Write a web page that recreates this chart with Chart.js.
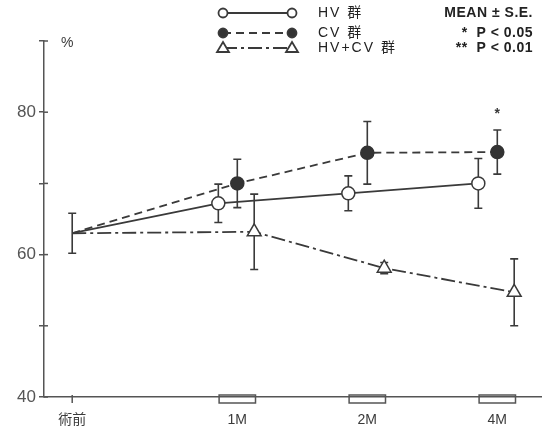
<!DOCTYPE html>
<html>
<head>
<meta charset="utf-8">
<script src="https://cdn.jsdelivr.net/npm/chart.js@4"></script>
<style>
  body { margin: 0; background: #fff; }
</style>
</head>
<body>
<canvas id="myChart" width="551" height="427"></canvas>
<script>
categories = ['術前', '1M', '2M', '4M'];

hvMean = [63.0, 67.2, 68.6, 70.0];
hvSE   = [2.8, 2.7, 2.45, 3.5];

cvMean = [63.0, 70.0, 74.3, 74.4];
cvSE   = [null, 3.4, 4.4, 3.1];
cvSig  = ['', '', '', '*'];

hvcvMean = [63.0, 63.2, 58.1, 54.7];
hvcvSE   = [null, 5.3, 0.8, 4.7];

yLabels = [40, 60, 80];

// where each category sits on the x scale (the figure is not evenly spaced)
xAt = [-0.27, 1, 2, 3];
FONT = "'Liberation Sans', 'Noto Sans CJK JP', sans-serif";
INK = '#3a3a3a';

function pts(values, shift) {
  return values.map((v, i) => ({ x: xAt[i] + (i == 0 ? 0 : shift), y: v }));
}

const errorBars = {
  id: 'errorBars',
  beforeDatasetsDraw(chart) {
    const ctx = chart.ctx;
    const y = chart.scales.y;
    ctx.save();
    ctx.strokeStyle = INK;
    ctx.lineWidth = 1.6;
    chart.data.datasets.forEach((ds, di) => {
      const meta = chart.getDatasetMeta(di);
      ds.se.forEach((e, i) => {
        if (e == null) return;
        const px = meta.data[i].x;
        const top = y.getPixelForValue(ds.data[i].y + e);
        const bot = y.getPixelForValue(ds.data[i].y - e);
        ctx.beginPath();
        ctx.moveTo(px, top); ctx.lineTo(px, bot);
        ctx.moveTo(px - 4, top); ctx.lineTo(px + 4, top);
        ctx.moveTo(px - 4, bot); ctx.lineTo(px + 4, bot);
        ctx.stroke();
      });
      if (ds.sig) {
        ctx.fillStyle = INK;
        ctx.font = 'bold 14px ' + FONT;
        ctx.textAlign = 'center';
        ds.sig.forEach((s, i) => {
          if (!s) return;
          const px = meta.data[i].x;
          const top = y.getPixelForValue(ds.data[i].y + ds.se[i]);
          ctx.fillText(s, px, top - 12);
        });
      }
    });
    ctx.restore();
  }
};

const decorations = {
  id: 'decorations',
  afterDraw(chart) {
    const ctx = chart.ctx;
    const xs = chart.scales.x, ys = chart.scales.y;
    const left = chart.chartArea.left, bottom = chart.chartArea.bottom;
    ctx.save();
    ctx.strokeStyle = '#555';
    ctx.lineWidth = 1.5;
    // inner half of the y ticks and the cap at the top
    ys.ticks.forEach(t => {
      const py = ys.getPixelForValue(t.value);
      ctx.beginPath(); ctx.moveTo(left, py); ctx.lineTo(left + 4, py); ctx.stroke();
    });
    // x axis: a tick for pre-op, little brackets for the months
    xAt.forEach((v, i) => {
      const px = xs.getPixelForValue(v);
      ctx.beginPath();
      if (i == 0) {
        ctx.moveTo(px, bottom - 2); ctx.lineTo(px, bottom + 6);
      } else {
        const w = xs.getPixelForValue(v + 0.14) - px;
        ctx.rect(px - w, bottom - 2, 2 * w, 8);
      }
      ctx.stroke();
    });
    ctx.fillStyle = INK;
    ctx.font = '14px ' + FONT;
    ctx.textAlign = 'left';
    ctx.textBaseline = 'middle';
    ctx.fillText('%', left + 17, 43);

    // legend
    const rows = [[13, 'HV 群'], [33, 'CV 群'], [48, 'HV+CV 群']];
    chart.data.datasets.forEach((ds, di) => {
      const ry = rows[di][0];
      ctx.strokeStyle = INK;
      ctx.lineWidth = 1.8;
      ctx.setLineDash(ds.borderDash || []);
      ctx.beginPath(); ctx.moveTo(223, ry); ctx.lineTo(292, ry); ctx.stroke();
      ctx.setLineDash([]);
      [223, 292].forEach(mx => {
        ctx.beginPath();
        if (ds.pointStyle == 'triangle') {
          ctx.moveTo(mx, ry - 6); ctx.lineTo(mx + 6, ry + 4); ctx.lineTo(mx - 6, ry + 4); ctx.closePath();
        } else {
          ctx.arc(mx, ry, 4.5, 0, Math.PI * 2);
        }
        ctx.fillStyle = ds.pointBackgroundColor;
        ctx.fill(); ctx.stroke();
      });
      ctx.fillStyle = '#222';
      ctx.font = '14px ' + FONT;
      ctx.letterSpacing = '2px';
      ctx.textAlign = 'left';
      ctx.fillText(rows[di][1], 318, ry);
    });
    ctx.fillStyle = '#222';
    ctx.font = 'bold 14px ' + FONT;
    ctx.letterSpacing = '0.5px';
    ctx.textAlign = 'right';
    ctx.fillText('MEAN ± S.E.', 533, 13);
    ctx.fillText('*  P < 0.05', 533, 33);
    ctx.fillText('**  P < 0.01', 533, 48);
    ctx.restore();
  }
};

function displayData() {
  const ctx = document.getElementById('myChart');

  new Chart(ctx, {
    type: 'line',
    data: {
      datasets: [{
        label: 'HV 群',
        data: pts(hvMean, -0.146),
        se: hvSE,
        borderColor: INK,
        borderWidth: 1.8,
        pointStyle: 'circle',
        pointRadius: [0, 6.5, 6.5, 6.5],
        pointBackgroundColor: '#fff',
        pointBorderColor: INK,
        pointBorderWidth: 1.5
      }, {
        label: 'CV 群',
        data: pts(cvMean, 0),
        se: cvSE,
        sig: cvSig,
        borderColor: INK,
        borderWidth: 1.8,
        borderDash: [8, 5],
        pointStyle: 'circle',
        pointRadius: [0, 6.5, 6.5, 6.5],
        pointBackgroundColor: '#333',
        pointBorderColor: '#333',
        pointBorderWidth: 1.5
      }, {
        label: 'HV+CV 群',
        data: pts(hvcvMean, 0.13),
        se: hvcvSE,
        borderColor: INK,
        borderWidth: 1.8,
        borderDash: [14, 4, 3, 4],
        pointStyle: 'triangle',
        pointRadius: [0, 8, 8, 8],
        pointBackgroundColor: '#fff',
        pointBorderColor: INK,
        pointBorderWidth: 1.5
      }]
    },
    options: {
      responsive: false,
      animation: false,
      devicePixelRatio: 1,
      layout: { padding: { top: 41, right: 8, left: 0, bottom: 0 } },
      plugins: { legend: { display: false }, tooltip: { enabled: false } },
      scales: {
        x: {
          type: 'linear',
          min: -0.487,
          max: 3.34,
          afterBuildTicks: axis => { axis.ticks = xAt.map(v => ({ value: v })); },
          afterFit: s => { s.height = 30; },
          ticks: {
            autoSkip: false,
            maxRotation: 0,
            padding: 15,
            color: INK,
            font: { family: FONT, size: 14 },
            callback: v => categories[xAt.indexOf(v)]
          },
          grid: { drawOnChartArea: false, drawTicks: false },
          border: { color: '#555', width: 1.5 }
        },
        y: {
          min: 40,
          max: 90,
          afterFit: s => { s.width = 44; },
          ticks: {
            stepSize: 10,
            padding: 3,
            color: '#555',
            font: { family: FONT, size: 17 },
            callback: v => yLabels.includes(v) ? v : ''
          },
          grid: { drawOnChartArea: false, tickLength: 5, color: '#555', lineWidth: 1.5 },
          border: { color: '#555', width: 1.5 }
        }
      }
    },
    plugins: [errorBars, decorations]
  });
}

displayData();
</script>
</body>
</html>
